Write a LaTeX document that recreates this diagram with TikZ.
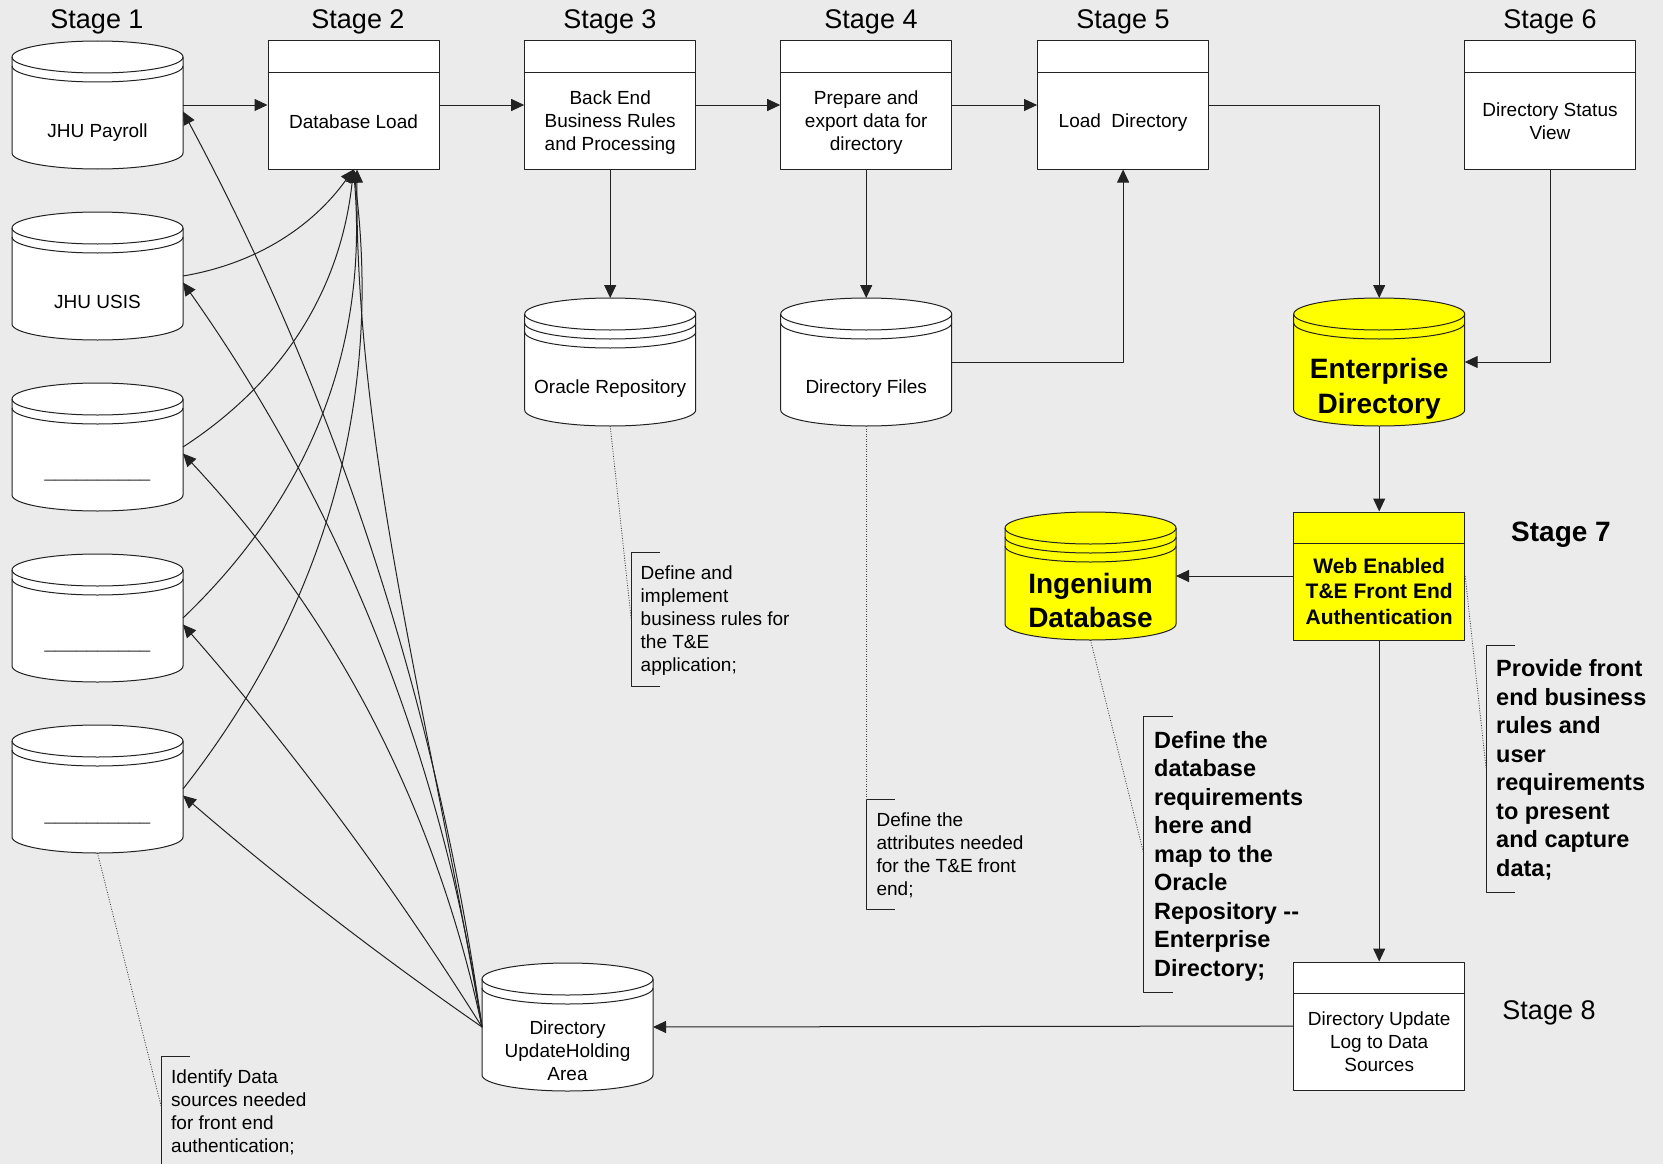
\documentclass[tikz,border=0pt]{standalone}
\usepackage{fontspec}
\setmainfont{Liberation Sans}
\usetikzlibrary{arrows.meta,calc}
\definecolor{bg}{HTML}{EBEBEB}
\definecolor{ln}{HTML}{222222}
\definecolor{yel}{HTML}{FFFF00}
\tikzset{
  edgeln/.style={draw=ln, line width=1pt},
  conn/.style={draw=ln, line width=1pt, -{Triangle[length=13pt,width=12pt]}},
  cylline/.style={draw=ln, line width=1pt},
  cylnode/.style={rectangle, minimum width=171pt, minimum height=128pt, inner sep=0pt, outer sep=0pt, draw=none},
  procbox/.style={rectangle, draw=ln, line width=1pt, fill=white, minimum width=171pt, minimum height=128pt, inner sep=0pt},
  lbl/.style={font=\fontsize{19}{23}\selectfont, align=center, inner sep=0pt},
  blbl/.style={font=\fontsize{21}{25.5}\selectfont\bfseries, align=center, inner sep=0pt},
  biglbl/.style={font=\fontsize{28}{35}\selectfont\bfseries, align=center, inner sep=0pt},
  stagelbl/.style={font=\fontsize{27}{32}\selectfont, anchor=base, inner sep=0pt},
  notetxt/.style={font=\fontsize{19}{23}\selectfont, align=left, anchor=west, inner sep=0pt},
  bnotetxt/.style={font=\fontsize{23.5}{28.5}\selectfont\bfseries, align=left, anchor=west, inner sep=0pt},
  brk/.style={draw=ln, line width=1pt},
  dots/.style={draw=black!75, line width=0.8pt, dash pattern=on 1pt off 1.5pt},
  blank/.style={font=\fontsize{19}{23}\selectfont, text=black!70, anchor=base, inner sep=0pt}
}
\newcommand\dbcyl[5]{%
  \begin{scope}[shift={(#2,#3)}]
    \filldraw[cylline, fill=#4] (0,16) -- (0,112)
      .. controls (0,120.84) and (38.28,128) .. (85.5,128)
      .. controls (132.72,128) and (171,120.84) .. (171,112)
      -- (171,16)
      .. controls (171,7.16) and (132.72,0) .. (85.5,0)
      .. controls (38.28,0) and (0,7.16) .. (0,16) -- cycle;
    \foreach \b in {#5}{%
      \draw[cylline] (0,16+\b) .. controls (0,24.84+\b) and (38.28,32+\b) .. (85.5,32+\b)
        .. controls (132.72,32+\b) and (171,24.84+\b) .. (171,16+\b);}
  \end{scope}
  \node[cylnode] (#1) at (#2+85.5,#3+64) {};
}
\newcommand\procnode[4]{%
  \node[procbox, fill=#4] (#1) at (#2,#3) {};
  \draw[edgeln] ([yshift=-32pt]#1.north west) -- ([yshift=-32pt]#1.north east);
}
\begin{document}
\begin{tikzpicture}[x=1pt, y=-1pt, line join=round]
\useasboundingbox (0,0) rectangle (1663,1164);
\fill[bg] (0,0) rectangle (1663,1164);

% stage labels
\node[stagelbl] (s1) at (97,29) {Stage 1};
\node[stagelbl] (s2) at (358,29) {Stage 2};
\node[stagelbl] (s3) at (610,29) {Stage 3};
\node[stagelbl] (s4) at (871,29) {Stage 4};
\node[stagelbl] (s5) at (1123,29) {Stage 5};
\node[stagelbl] (s6) at (1550,29) {Stage 6};
\node[stagelbl, font=\fontsize{28}{32}\selectfont\bfseries] (s7) at (1561,541.5) {Stage 7};
\node[stagelbl] (s8) at (1549,1019) {Stage 8};

% source cylinders
\dbcyl{p1}{12}{41}{white}{0,9}
\dbcyl{p2}{12}{212}{white}{0,9}
\dbcyl{p3}{12}{383}{white}{0,9}
\dbcyl{p4}{12}{554}{white}{0,9}
\dbcyl{p5}{12}{725}{white}{0,9}
\node[lbl] (tp1) at (97.5,133) {JHU Payroll};
\node[lbl] (tp2) at (97.5,302) {JHU USIS};
\node[blank] (tp3) at (97.5,477) {\_\_\_\_\_\_\_\_\_\_};
\node[blank] (tp4) at (97.5,648) {\_\_\_\_\_\_\_\_\_\_};
\node[blank] (tp5) at (97.5,820) {\_\_\_\_\_\_\_\_\_\_};

% other cylinders
\dbcyl{ora}{524.7}{298}{white}{0,9,18}
\dbcyl{dirf}{780.7}{298}{white}{0,9}
\dbcyl{ent}{1293.7}{298}{yel}{0,9}
\dbcyl{ing}{1005}{512}{yel}{0,9,18}
\dbcyl{hold}{482}{963}{white}{0,9}
\node[lbl] (tora) at (610.2,388.7) {Oracle Repository};
\node[lbl] (tdirf) at (866.2,388.7) {Directory Files};
\node[biglbl] (tent) at (1379.2,388.6) {Enterprise\\Directory};
\node[biglbl, font=\fontsize{28}{34}\selectfont\bfseries] (ting) at (1090.5,600) {Ingenium\\Database};
\node[lbl] (thold) at (567.5,1051) {Directory\\UpdateHolding\\Area};

% process boxes
\procnode{b2}{353.5}{105}{white}
\procnode{b3}{610.2}{105}{white}
\procnode{b4}{866.2}{105}{white}
\procnode{b5}{1123.1}{105}{white}
\procnode{b6}{1550}{105}{white}
\procnode{b7}{1379.2}{576}{yel}
\procnode{b8}{1379.2}{1026}{white}
\node[lbl] (tb2) at ([yshift=-17pt]b2.center) {Database Load};
\node[lbl] (tb3) at ([yshift=-17.5pt]b3.center) {Back End\\Business Rules\\and Processing};
\node[lbl] (tb4) at ([yshift=-17.5pt]b4.center) {Prepare and\\export data for\\directory};
\node[lbl] (tb5) at ([yshift=-18pt]b5.center) {Load~~Directory};
\node[lbl] (tb6) at ([yshift=-16pt]b6.center) {Directory Status\\View};
\node[blbl] (tb7) at ([yshift=-15pt]b7.center) {Web Enabled\\T\&E Front End\\Authentication};
\node[lbl] (tb8) at ([yshift=-16pt]b8.center) {Directory Update\\Log to Data\\Sources};

% main flow
\draw[conn] (p1.east) -- (b2.west);
\draw[conn] (b2.east) -- (b3.west);
\draw[conn] (b3.east) -- (b4.west);
\draw[conn] (b4.east) -- (b5.west);
\draw[conn] (b5.east) -| (ent.north);
\draw[conn] (b6.south) |- (ent.east);
\draw[conn] (b3.south) -- (ora.north);
\draw[conn] (b4.south) -- (dirf.north);
\draw[conn] (dirf.east) -| (b5.south);
\draw[conn] (ent.south) -- (b7.north);
\draw[conn] (b7.west) -- (ing.east);
\draw[conn] (b7.south) -- (b8.north);
\draw[conn] (b8.west) -- (hold.east);

% sources into Database Load
\draw[conn] (p2.east) .. controls (254.3,264) and (311.2,228.3) .. (b2.south);
\draw[conn] (p3.east) .. controls (284,381.4) and (340.8,288.7) .. (b2.south);
\draw[conn] (p4.east) .. controls (311.3,495.3) and (368.2,345.7) .. (b2.south);
\draw[conn] (p5.east) .. controls (326.3,606.1) and (383.2,399.4) .. (b2.south);
\draw[conn] (hold.west) .. controls (430,720) and (355,450) .. ([xshift=3.5pt]b2.south);

% holding area back to sources
\draw[conn] (hold.west) .. controls (436.8,704) and (337.1,398.8) .. ([yshift=-6.5pt]p1.east);
\draw[conn] (hold.west) .. controls (441.1,755.2) and (341.5,507) .. ([yshift=-6.5pt]p2.east);
\draw[conn] (hold.west) .. controls (435.5,808.1) and (335.9,617) .. ([yshift=-6.5pt]p3.east);
\draw[conn] (hold.west) .. controls (393,884.9) and (293.4,750.7) .. ([yshift=-6.5pt]p4.east);
\draw[conn] (hold.west) .. controls (378.3,955.1) and (278.6,878) .. ([yshift=-6.5pt]p5.east);

% annotations
\coordinate (k1) at (631.2,619);
\coordinate (k2) at (866.2,799);
\coordinate (k3) at (161.6,1108);
\coordinate (k4) at (1143.8,854);
\coordinate (k5) at (1486,768);
\draw[brk] (660,552) -- (631.2,552) -- (631.2,686) -- (660,686);
\draw[brk] (894.6,799) -- (866.2,799) -- (866.2,909) -- (894.6,909);
\draw[brk] (190,1056) -- (161.6,1056) -- (161.6,1164);
\draw[brk] (1173,716) -- (1143.8,716) -- (1143.8,992) -- (1173,992);
\draw[brk] (1515,645) -- (1486,645) -- (1486,892) -- (1515,892);
\draw[dots] (ora.south) -- (k1);
\draw[dots] (dirf.south) -- (k2);
\draw[dots] (p5.south) -- (k3);
\draw[dots] (ing.south) -- (k4);
\draw[dots] (b7.east) -- (k5);
\node[notetxt] (n1) at (640.5,620.2) {Define and\\implement\\business rules for\\the T\&E\\application;};
\node[notetxt] (n2) at (876.4,855.5) {Define the\\attributes needed\\for the T\&E front\\end;};
\node[notetxt] (n3) at (171,1112.5) {Identify Data\\sources needed\\for front end\\authentication;};
\node[bnotetxt] (n4) at (1154,856) {Define the\\database\\requirements\\here and\\map to the\\Oracle\\Repository -{}-\\Enterprise\\Directory;};
\node[bnotetxt] (n5) at (1496,770) {Provide front\\end business\\rules and\\user\\requirements\\to present\\and capture\\data;};
\end{tikzpicture}
\end{document}
